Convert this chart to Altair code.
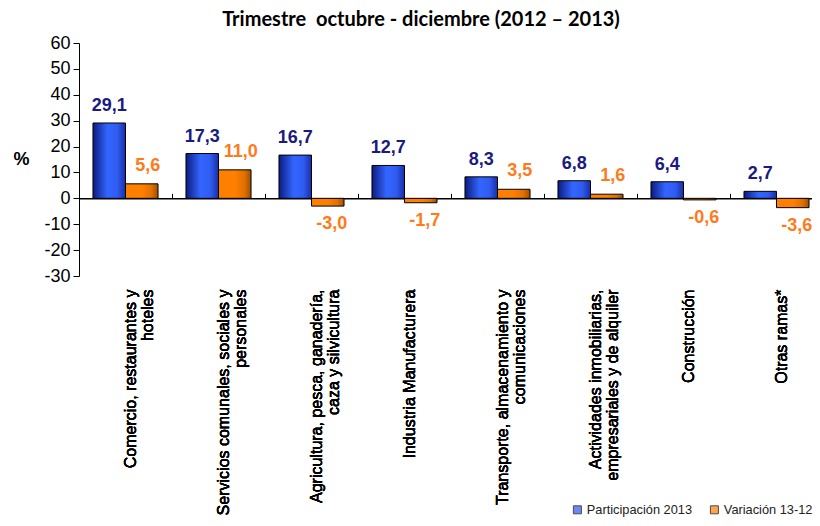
import altair as alt
import pandas as pd

categories = [
    "Comercio, restaurantes y\nhoteles",
    "Servicios comunales, sociales y\npersonales",
    "Agricultura, pesca, ganadería,\ncaza y silvicultura",
    "Industria Manufacturera",
    "Transporte, almacenamiento y\ncomunicaciones",
    "Actividades inmobiliarias,\nempresariales y de alquiler",
    "Construcción",
    "Otras ramas*",
]
participacion = [29.1, 17.3, 16.7, 12.7, 8.3, 6.8, 6.4, 2.7]
variacion = [5.6, 11.0, -3.0, -1.7, 3.5, 1.6, -0.6, -3.6]
series = ["Participación 2013", "Variación 13-12"]
y_ticks = [-30, -20, -10, 0, 10, 20, 30, 40, 50, 60]
title_text = "Trimestre \u00a0octubre - diciembre (2012 – 2013)"

# Approximate Arial advance widths (per 1000 em) to centre multi-line labels
ADV = {' ': 278, ',': 278, 'a': 556, 'b': 556, 'c': 500, 'd': 556, 'e': 556, 'f': 278,
       'g': 556, 'h': 556, 'i': 222, 'l': 222, 'm': 833, 'n': 556, 'o': 556, 'p': 556,
       'q': 556, 'r': 333, 's': 500, 't': 278, 'u': 556, 'v': 500, 'y': 500, 'z': 500,
       'í': 278, 'ó': 556, '*': 389, 'A': 667, 'C': 722, 'I': 278, 'M': 833, 'O': 778,
       'S': 667, 'T': 611}


def adv(s):
    return sum(ADV.get(c, 556) for c in s)


def centred(label):
    lines = label.split("\n")
    longest = max(adv(l) for l in lines)
    return "|".join(l + "\u00a0" * round((longest - adv(l)) / 2 / 278) for l in lines)


cat_labels = [centred(c) for c in categories]


def fmt(v):
    return f"{v:.1f}".replace(".", ",")


rows = []
for lab, p, v in zip(cat_labels, participacion, variacion):
    rows.append({"cat": lab, "series": series[0], "value": p, "txt": fmt(p)})
    rows.append({"cat": lab, "series": series[1], "value": v, "txt": fmt(v)})
df = pd.DataFrame(rows)

W, H = 744, 233
PAD_L, PAD_T = 71, 35
PAD_R = 804 - PAD_L - W
PAD_B = 510 - PAD_T - H
FONT = "Liberation Sans"
BLUE_TXT = "#1a1a80"
ORANGE_TXT = "#ff7b1a"

blue_grad = alt.LinearGradient(
    gradient="linear", x1=0, x2=1, y1=0, y2=0,
    stops=[alt.GradientStop(color="#0d1b80", offset=0),
           alt.GradientStop(color="#3366ff", offset=0.45),
           alt.GradientStop(color="#2f5cf0", offset=0.75),
           alt.GradientStop(color="#1a2ea8", offset=1)])
orange_grad = alt.LinearGradient(
    gradient="linear", x1=0, x2=1, y1=0, y2=0,
    stops=[alt.GradientStop(color="#ff8000", offset=0),
           alt.GradientStop(color="#ff8000", offset=0.5),
           alt.GradientStop(color="#e07000", offset=0.8),
           alt.GradientStop(color="#a04f00", offset=1)])

x_enc = alt.X("cat:N", sort=cat_labels,
              scale=alt.Scale(paddingInner=0, paddingOuter=0),
              axis=alt.Axis(orient="bottom", title=None, labelAngle=-90, domain=False,
                            ticks=False, labelFont=FONT, labelFontSize=16,
                            labelColor="black", labelPadding=13, labelLineHeight=17,
                            labelOffset=5, labelLimit=400,
                            labelExpr="split(datum.label, '|')"))
xo_enc = alt.XOffset("series:N", sort=series,
                     scale=alt.Scale(domain=series, paddingOuter=0.43, paddingInner=0))
y_enc = alt.Y("value:Q",
              scale=alt.Scale(domain=[-30, 60], nice=False, zero=False),
              axis=alt.Axis(values=y_ticks, grid=False, domainColor="black",
                            tickColor="black", tickSize=6, labelFont=FONT,
                            labelFontSize=18, labelColor="black", labelPadding=3,
                            labelOverlap=False,
                            labelExpr="datum.value < 0 ? '-' + abs(datum.value) : '' + datum.value",
                            title="%", titleAngle=0, titleFont=FONT, titleFontSize=18,
                            titleFontWeight="bold", titleColor="black",
                            titleAlign="center", titleBaseline="middle", titleX=-58))

base = alt.Chart(df)

bars_blue = base.transform_filter(alt.datum.series == series[0]).mark_bar(
    fill=blue_grad, stroke="black", strokeWidth=1).encode(x=x_enc, xOffset=xo_enc, y=y_enc)
bars_orange = base.transform_filter(alt.datum.series == series[1]).mark_bar(
    fill=orange_grad, stroke="black", strokeWidth=1).encode(x=x_enc, xOffset=xo_enc, y=y_enc)

txt_blue = base.transform_filter(alt.datum.series == series[0]).mark_text(
    baseline="bottom", dy=-8, font=FONT, fontSize=18, fontWeight="bold",
    color=BLUE_TXT).encode(x=x_enc, xOffset=xo_enc, y=y_enc, text="txt:N")
txt_or_pos = base.transform_filter(
    (alt.datum.series == series[1]) & (alt.datum.value >= 0)).mark_text(
    baseline="bottom", dy=-9, dx=6, font=FONT, fontSize=18, fontWeight="bold",
    color=ORANGE_TXT).encode(x=x_enc, xOffset=xo_enc, y=y_enc, text="txt:N")
txt_or_neg = base.transform_filter(
    (alt.datum.series == series[1]) & (alt.datum.value < 0)).mark_text(
    baseline="top", dy=9, dx=4, font=FONT, fontSize=18, fontWeight="bold",
    color=ORANGE_TXT).encode(x=x_enc, xOffset=xo_enc, y=y_enc, text="txt:N")

zero_axis = base.mark_point(opacity=0).encode(
    x=alt.X("cat:N", sort=cat_labels, scale=alt.Scale(paddingInner=0, paddingOuter=0),
            axis=alt.Axis(orient="top", offset=-(60 / 90) * H, labels=False, title=None,
                          domainColor="black", domainWidth=1.5, tickColor="black",
                          tickSize=5, tickBand="extent")),
    y=y_enc)

legend_layer = base.mark_square(size=64, filled=True, clip=True).encode(
    x=alt.value(-500), y=alt.value(-500),
    color=alt.Color("series:N", scale=alt.Scale(domain=series, range=["#3355ee", "#ff8000"]),
                    legend=alt.Legend(orient="none", legendX=492, legendY=460,
                                      direction="horizontal", title=None,
                                      symbolType="square", symbolSize=64,
                                      symbolStrokeColor="black", symbolStrokeWidth=1,
                                      labelFont=FONT, labelFontSize=12.8,
                                      labelColor="#222222", columnPadding=15,
                                      labelOffset=3)))

chart = alt.layer(bars_blue, bars_orange, txt_blue, txt_or_pos, txt_or_neg,
                  zero_axis, legend_layer).resolve_axis(x="independent").properties(
    width=W, height=H,
    autosize=alt.AutoSizeParams(type="none"),
    padding={"left": PAD_L, "top": PAD_T, "right": PAD_R, "bottom": PAD_B},
    title=alt.TitleParams(title_text, font="Lato", fontSize=20, fontWeight="bold",
                          color="black", offset=4, dx=-30),
).configure_view(stroke=None)

chart.save("out.html", embed_options={"renderer": "svg", "actions": False})
